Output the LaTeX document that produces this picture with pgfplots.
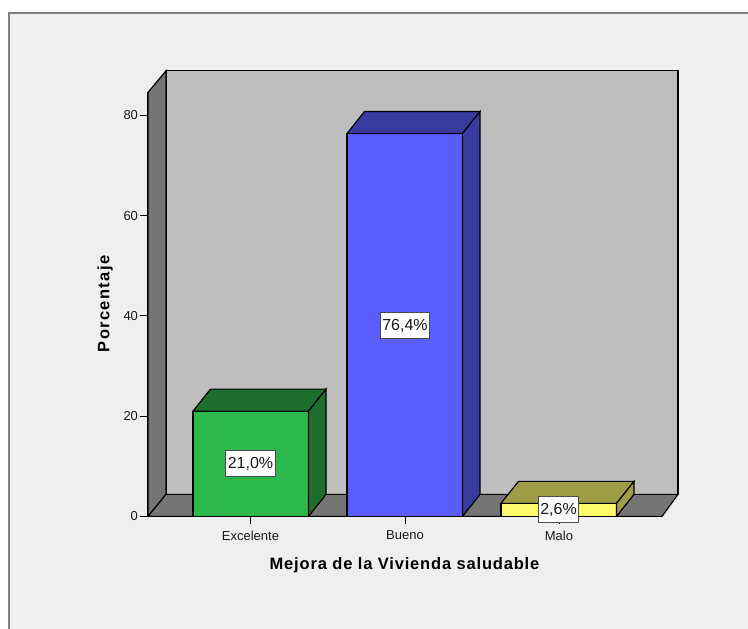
\documentclass[border=0pt]{standalone}
\usepackage{fontspec}
\setmainfont{Liberation Sans}
\usepackage{pgfplots}
\pgfplotsset{compat=1.18}
\definecolor{panel}{HTML}{EFEFEF}
\definecolor{frameline}{HTML}{808080}
\definecolor{wallback}{HTML}{BEBEBE}
\definecolor{wallside}{HTML}{757575}
\definecolor{barG}{HTML}{2DB84B}
\definecolor{barGd}{HTML}{1E6E2E}
\definecolor{barB}{HTML}{5A5DFF}
\definecolor{barBd}{HTML}{383C9E}
\definecolor{barY}{HTML}{FFF96B}
\definecolor{barYd}{HTML}{A09C45}
\pgfplotsset{
    face/.style={draw=black, line width=1.2pt, line join=miter, fill=#1},
}
\begin{document}
\begin{tikzpicture}[x=1pt, y=1pt]
    % page is 748x629, 1 px = 1 pt
    \path[use as bounding box, fill=white] (0,0) rectangle (748,629);
    \fill[panel] (9,0) rectangle (748,616);
    \draw[frameline, line width=1.4pt] (9,0) -- (9,616) -- (748,616);
    \begin{axis}[
        at={(148pt,112.6pt)}, anchor=south west,
        scale only axis,
        width=514pt, height=424pt,
        xmin=148, xmax=662,
        ymin=0, ymax=84.6,
        clip=false,
        axis lines=left,
        axis line style={-, line width=1.2pt},
        tick align=outside,
        tick style={black, line width=1pt},
        major tick length=8pt,
        xtick={250.5,405,559},
        xticklabels={Excelente,Bueno,Malo},
        ytick={0,20,40,60,80},
        /pgf/number format/assume math mode=true,
        tick label style={font=\fontsize{13}{15}\selectfont, text=black!90},
        xticklabel style={yshift=-3pt},
        yticklabel style={xshift=1.5pt},
        xlabel={Mejora de la Vivienda saludable},
        ylabel={Porcentaje},
        every axis x label/.style={at={(axis cs:404.5,-9.8)}, anchor=center,
            font=\fontsize{16.5}{18}\bfseries\addfontfeatures{LetterSpace=5}},
        every axis y label/.style={at={(axis cs:105,42.4)}, anchor=center, rotate=90,
            font=\fontsize{16.5}{18}\bfseries\addfontfeatures{LetterSpace=8}},
        point meta=explicit symbolic,
    ]
    % walls and floor
    \addplot[face=wallback] coordinates {(166,4.39)(678,4.39)(678,88.9)(166,88.9)(166,4.39)};
    \addplot[face=wallside] coordinates {(148,0)(166,4.39)(166,88.9)(148,84.6)(148,0)};
    \addplot[face=wallside] coordinates {(148,0)(662,0)(678,4.39)(166,4.39)(148,0)};

    % Excelente 21.0
    \addplot[face=barG] coordinates {(193,0)(308.5,0)(308.5,21)(193,21)(193,0)};
    \addplot[face=barGd] coordinates {(193,21)(308.5,21)(326,25.39)(210.5,25.39)(193,21)};
    \addplot[face=barGd] coordinates {(308.5,0)(326,4.39)(326,25.39)(308.5,21)(308.5,0)};

    % Bueno 76.4
    \addplot[face=barB] coordinates {(347,0)(462.5,0)(462.5,76.4)(347,76.4)(347,0)};
    \addplot[face=barBd] coordinates {(347,76.4)(462.5,76.4)(480,80.79)(364.5,80.79)(347,76.4)};
    \addplot[face=barBd] coordinates {(462.5,0)(480,4.39)(480,80.79)(462.5,76.4)(462.5,0)};

    % Malo 2.6
    \addplot[face=barY] coordinates {(501,0)(616.5,0)(616.5,2.6)(501,2.6)(501,0)};
    \addplot[face=barYd] coordinates {(501,2.6)(616.5,2.6)(634,6.99)(518.5,6.99)(501,2.6)};
    \addplot[face=barYd] coordinates {(616.5,0)(634,4.39)(634,6.99)(616.5,2.6)(616.5,0)};

    % value labels
    \addplot[draw=none, mark=none,
        nodes near coords,
        every node near coord/.append style={anchor=center, draw=black!70, fill=white,
            line width=1pt, inner xsep=2pt, inner ysep=0pt, minimum height=26pt, text=black!90,
            font=\fontsize{16}{18}\selectfont},
    ] coordinates {(250.5,10.5)[21,0\%] (405,38.1)[76,4\%] (558.5,1.3)[2,6\%]};
    \end{axis}
\end{tikzpicture}
\end{document}
